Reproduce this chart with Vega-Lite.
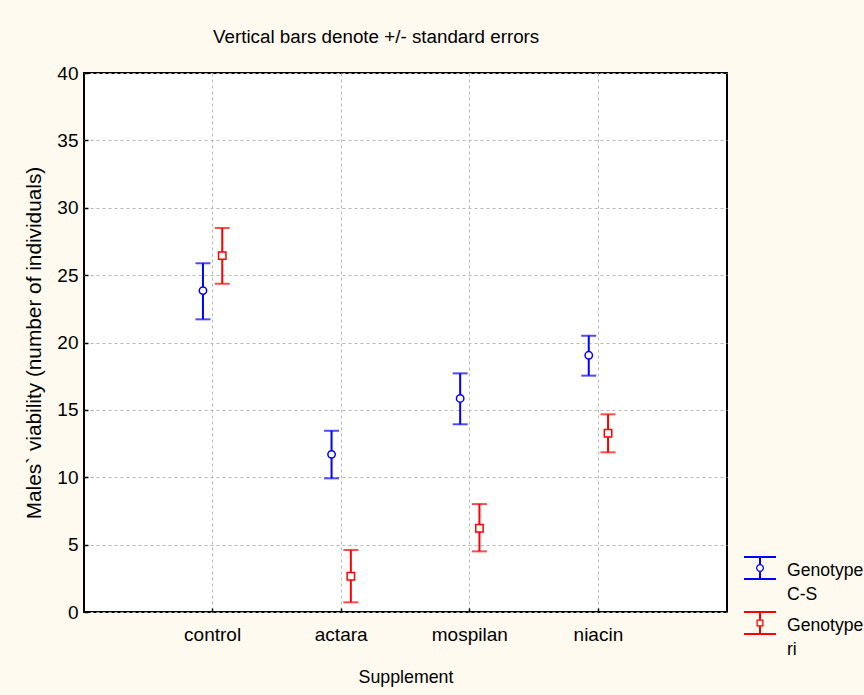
{
  "$schema": "https://vega.github.io/schema/vega-lite/v6.json",
  "width": 643,
  "height": 539,
  "autosize": {"type": "none"},
  "padding": {"left": 84, "top": 73, "right": 137, "bottom": 83},
  "background": "#fefaf0",
  "title": {
    "text": "Vertical bars denote +/- standard errors",
    "anchor": "start",
    "frame": "group",
    "dx": 129,
    "offset": 17,
    "fontSize": 18.8,
    "fontWeight": "normal",
    "font": "Liberation Sans",
    "color": "black"
  },
  "config": {
    "font": "Liberation Sans",
    "view": {"fill": "white", "stroke": "black", "strokeWidth": 2},
    "axis": {
      "labelFontSize": 19,
      "labelColor": "black",
      "titleFontSize": 17.8,
      "titleFontWeight": "normal",
      "titleColor": "black",
      "grid": true,
      "gridDash": [3, 3],
      "gridColor": "#b8b8b8",
      "gridWidth": 1,
      "domain": false,
      "tickColor": "black",
      "tickSize": -4,
      "tickWidth": 1.5
    }
  },
  "data": {
    "values": [
      {"supp": "control", "geno": "Genotype C-S", "mean": 23.85, "lo": 21.72, "hi": 25.88},
      {"supp": "control", "geno": "Genotype ri", "mean": 26.45, "lo": 24.36, "hi": 28.5},
      {"supp": "actara", "geno": "Genotype C-S", "mean": 11.7, "lo": 9.92, "hi": 13.45},
      {"supp": "actara", "geno": "Genotype ri", "mean": 2.65, "lo": 0.72, "hi": 4.6},
      {"supp": "mospilan", "geno": "Genotype C-S", "mean": 15.85, "lo": 13.93, "hi": 17.71},
      {"supp": "mospilan", "geno": "Genotype ri", "mean": 6.22, "lo": 4.5, "hi": 8.01},
      {"supp": "niacin", "geno": "Genotype C-S", "mean": 19.05, "lo": 17.54, "hi": 20.5},
      {"supp": "niacin", "geno": "Genotype ri", "mean": 13.26, "lo": 11.85, "hi": 14.67}
    ]
  },
  "encoding": {
    "x": {
      "field": "supp",
      "type": "nominal",
      "sort": ["control", "actara", "mospilan", "niacin"],
      "scale": {"type": "band", "paddingInner": 0.85, "paddingOuter": 0.925},
      "axis": {"title": "Supplement", "labelAngle": 0, "bandPosition": 0.5, "labelPadding": 17, "titlePadding": 24}
    },
    "xOffset": {
      "field": "geno",
      "type": "nominal",
      "scale": {"type": "point", "padding": 0}
    },
    "y": {
      "field": "mean",
      "type": "quantitative",
      "scale": {"domain": [0, 40], "nice": false},
      "axis": {"title": "Males` viability (number of individuals)", "titleFontSize": 20.8, "values": [0, 5, 10, 15, 20, 25, 30, 35, 40], "labelPadding": 10, "titlePadding": 12}
    },
    "color": {
      "field": "geno",
      "type": "nominal",
      "scale": {"domain": ["Genotype C-S", "Genotype ri"], "range": ["#0000ff", "#ff0000"]},
      "legend": {
        "title": null,
        "orient": "none",
        "legendX": 660,
        "legendY": 479,
        "padding": 0,
        "symbolSize": 1024,
        "symbolStrokeWidth": 0,
        "labelFontSize": 17.6,
        "labelColor": "black",
        "labelOffset": 11,
        "labelBaseline": "top",
        "labelExpr": "split(datum.label, ' ')",
        "rowPadding": 3,
        "encode": {
          "symbols": {
            "update": {
              "shape": {"signal": "datum.value === 'Genotype C-S' ? 'M-1,-0.75H1V-0.63H-1Z M-1,0.63H1V0.75H-1Z M-0.0625,-0.63H0.0625V-0.24H-0.0625Z M-0.0625,0.24H0.0625V0.63H-0.0625Z M0.25,0A0.25,0.25 0 1,1 -0.25,0A0.25,0.25 0 1,1 0.25,0Z M0.17,0A0.17,0.17 0 1,0 -0.17,0A0.17,0.17 0 1,0 0.17,0Z' : 'M-1,-0.75H1V-0.63H-1Z M-1,0.63H1V0.75H-1Z M-0.0625,-0.63H0.0625V-0.22H-0.0625Z M-0.0625,0.22H0.0625V0.63H-0.0625Z M-0.22,-0.22H0.22V0.22H-0.22Z M-0.14,-0.14V0.14H0.14V-0.14Z'"},
              "fill": {"scale": "color", "field": "value"},
              "strokeWidth": {"value": 0},
              "opacity": {"value": 1}
            }
          },
          "labels": {
            "update": {
              "lineHeight": {"value": 24},
              "dy": {"value": -6}
            }
          }
        }
      }
    }
  },
  "layer": [
    {
      "mark": {"type": "rule", "strokeWidth": 2},
      "encoding": {
        "y": {"field": "lo", "type": "quantitative"},
        "y2": {"field": "hi"}
      }
    },
    {
      "mark": {"type": "tick", "size": 15, "thickness": 2},
      "encoding": {
        "y": {"field": "lo", "type": "quantitative"}
      }
    },
    {
      "mark": {"type": "tick", "size": 15, "thickness": 2},
      "encoding": {
        "y": {"field": "hi", "type": "quantitative"}
      }
    },
    {
      "transform": [{"filter": "datum.geno === 'Genotype C-S'"}],
      "mark": {"type": "point", "shape": "circle", "filled": false, "fill": "white", "strokeWidth": 1.5, "opacity": 1, "size": 55}
    },
    {
      "transform": [{"filter": "datum.geno === 'Genotype ri'"}],
      "mark": {"type": "point", "shape": "square", "filled": false, "fill": "white", "strokeWidth": 1.5, "opacity": 1, "size": 55}
    }
  ]
}
